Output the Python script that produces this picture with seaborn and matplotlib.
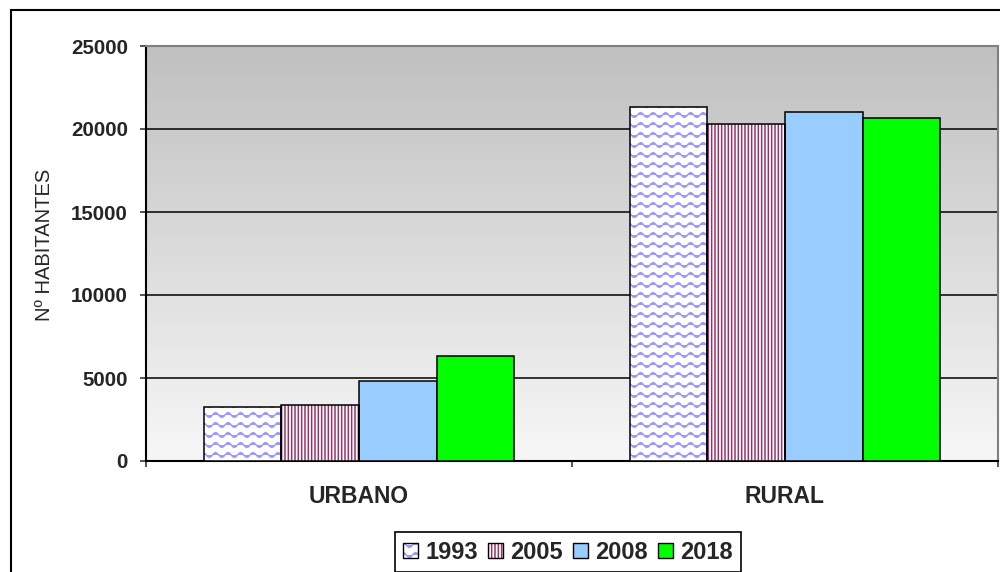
import warnings
import numpy as np
import pandas as pd
import matplotlib
matplotlib.use("Agg")
import matplotlib.pyplot as plt
import matplotlib.hatch as mhatch
from matplotlib.path import Path
from matplotlib.patches import Patch, Rectangle
from matplotlib.colors import LinearSegmentedColormap
import seaborn as sns

warnings.filterwarnings("ignore")

# dados
zonas = ["URBANO", "RURAL"]
anos = ["1993", "2005", "2008", "2018"]
urbano = [3250, 3350, 4800, 6300]
rural = [21300, 20300, 21000, 20650]

cores = {"1993": "white", "2005": "white", "2008": "#99CCFF", "2018": "#00FF00"}
hatches = {"1993": "w", "2005": "|||||", "2008": None, "2018": None}
cor_hatch = {"1993": "#9999FF", "2005": "#993366"}


# hatch ondulado (nao existe no matplotlib)
class WaveHatch(mhatch.HatchPatternBase):
    def __init__(self, hatch, density):
        self.rows = 10 if "w" in hatch else 0
        self.pts = 65
        self.num_vertices = self.rows * self.pts

    def set_vertices_and_codes(self, vertices, codes):
        xs = np.linspace(0, 1, self.pts)
        k = 0
        for i in range(self.rows):
            y0 = (i + 0.5) / self.rows
            vertices[k:k + self.pts, 0] = xs
            vertices[k:k + self.pts, 1] = y0 + 0.024 * np.sin(2 * np.pi * 8 * xs)
            codes[k] = Path.MOVETO
            codes[k + 1:k + self.pts] = Path.LINETO
            k += self.pts


mhatch._hatch_types.append(WaveHatch)

sns.set_style("white")
plt.rcParams["font.family"] = ["Liberation Sans", "DejaVu Sans"]
plt.rcParams["hatch.linewidth"] = 1.1

df = pd.DataFrame({
    "zona": [z for z in zonas for _ in anos],
    "ano": anos * 2,
    "habitantes": urbano + rural,
})

fig, ax = plt.subplots(figsize=(10, 5.72), dpi=100)
fig.subplots_adjust(left=0.146, right=0.998, bottom=1 - 461 / 572, top=1 - 46 / 572)

sns.barplot(data=df, x="zona", y="habitantes", hue="ano", hue_order=anos,
            palette=cores, width=0.73, saturation=1, edgecolor="black",
            linewidth=1.1, legend=False, ax=ax, zorder=3)

# hatches com cor propria + contorno preto por cima
for cont, ano in zip(ax.containers, anos):
    if hatches[ano] is None:
        continue
    for bar in cont:
        bar.set_hatch(hatches[ano])
        bar.set_edgecolor(cor_hatch[ano])
        bar.set_linewidth(0)
        ax.add_patch(Rectangle((bar.get_x(), bar.get_y()), bar.get_width(),
                               bar.get_height(), fill=False, ec="black",
                               lw=1.1, zorder=4))

# fundo em degrade
cmap = LinearSegmentedColormap.from_list("fundo", ["#F7F7F7", "#C0C0C0"])
grad = np.linspace(0, 1, 256).reshape(-1, 1)
ax.imshow(grad, extent=[0, 1, 0, 1], transform=ax.transAxes, origin="lower",
          aspect="auto", cmap=cmap, zorder=-2)

ax.set_xlim(-0.5, 1.5)
ax.set_ylim(0, 25000)
ax.set_axisbelow(True)

ax.set_yticks(np.arange(0, 25001, 5000))
ax.yaxis.grid(True, color="black", lw=1.1)
ax.xaxis.grid(False)
ax.tick_params(axis="y", direction="out", length=4.3, width=1.1, pad=8.6,
               labelsize=14.8, left=True)
for t in ax.get_yticklabels():
    t.set_fontweight("bold")

ax.set_xticks([-0.5, 0.5, 1.5])
ax.set_xticklabels([])
ax.set_xticks([0, 1], minor=True)
ax.set_xticklabels(zonas, minor=True, fontsize=16.5, fontweight="bold")
ax.tick_params(axis="x", which="major", direction="out", length=4.3, width=1.1,
               bottom=True)
ax.tick_params(axis="x", which="minor", length=0, pad=17)
ax.set_xlabel("")

ax.set_ylabel("")
fig.text(44.5 / 1000, 1 - 245 / 572, "Nº HABITANTES", rotation=90,
         ha="center", va="center", fontsize=14.5)

for s in ["left", "bottom"]:
    ax.spines[s].set_color("black")
    ax.spines[s].set_linewidth(1.5)
for s in ["top", "right"]:
    ax.spines[s].set_color("#808080")
    ax.spines[s].set_linewidth(1.5)
    ax.spines[s].set_visible(True)

# legenda
handles = []
for ano in anos:
    if hatches[ano] is None:
        handles.append(Patch(facecolor=cores[ano], edgecolor="black", lw=1))
    else:
        handles.append((Patch(facecolor="white", edgecolor=cor_hatch[ano],
                              lw=0, hatch=hatches[ano]),
                        Patch(fill=False, edgecolor="black", lw=1)))
leg = fig.legend(handles, anos, loc="lower center", bbox_to_anchor=(0.568, 0.0),
                 ncol=4, frameon=True, fancybox=False, framealpha=1,
                 edgecolor="black", handlelength=0.62, handleheight=0.62,
                 handletextpad=0.3, columnspacing=0.45, borderpad=0.35,
                 borderaxespad=0, prop={"size": 17, "weight": "bold"})
leg.get_frame().set_linewidth(1.2)

# moldura externa
fig.add_artist(Rectangle((11 / 1000, -0.1), 1.2, 1.1 - 10 / 572, fill=False,
                         ec="black", lw=1.5, transform=fig.transFigure,
                         clip_on=False))

fig.savefig("out.png", dpi=100)
